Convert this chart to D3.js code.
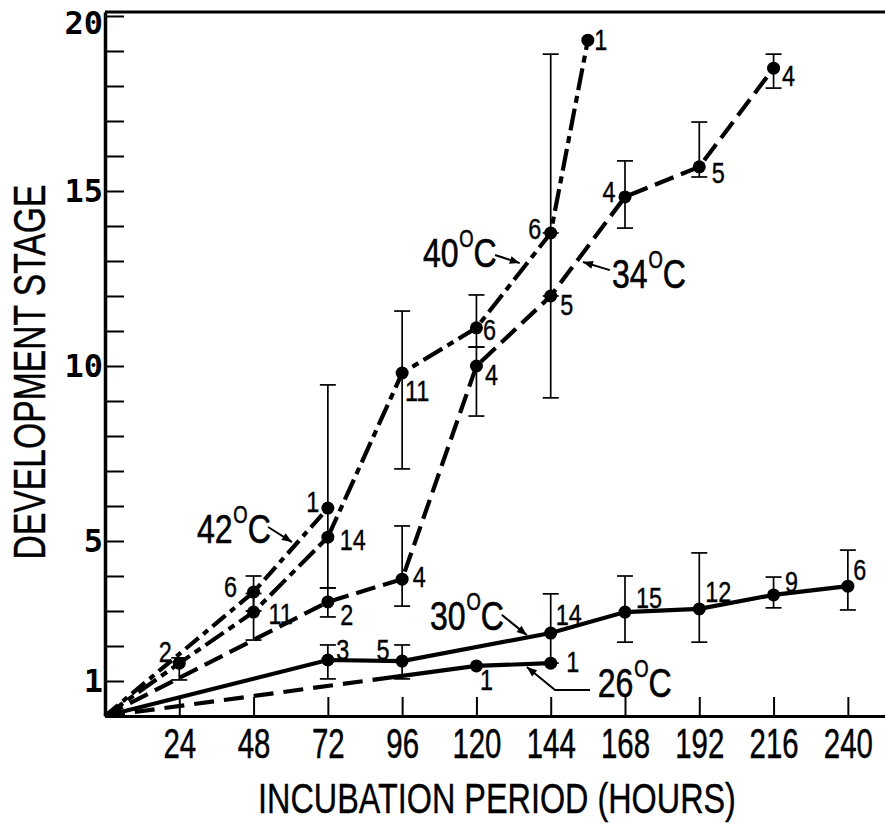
<!DOCTYPE html>
<html><head><meta charset="utf-8">
<script src="https://cdn.jsdelivr.net/npm/d3@7"></script>
<style>body{margin:0;background:#fff}</style>
</head><body>
<svg id="c" width="885" height="824"></svg>
<script>
// ---------- DATA ----------
const xTickValues = [24,48,72,96,120,144,168,192,216,240];
const yTickValues = d3.range(1,21);
const yTickLabels = [1,5,10,15,20];

const hours42 = [0,48,72];
const stage42 = [0,3.54,5.94];
const n42     = [null,6,1];
const lo42    = [null,3.0,null];
const hi42    = [null,4.0,null];

const hours40 = [0,24,48,72,96,120,144,156];
const stage40 = [0,1.51,2.97,5.11,9.8,11.09,13.8,19.31];
const n40     = [null,2,11,14,11,6,6,1];
const lo40    = [null,1.03,2.17,3.66,7.06,10.54,12.0,null];
const hi40    = [null,1.66,3.5,9.46,11.57,12.03,18.91,null];

const hours34 = [0,72,96,120,144,168,192,216];
const stage34 = [0,3.26,3.91,10.0,12.0,14.83,15.69,18.51];
const n34     = [null,2,4,4,5,4,5,4];
const lo34    = [null,2.83,3.14,8.57,9.09,13.94,15.4,17.94];
const hi34    = [null,3.66,5.43,10.54,13.8,15.86,16.97,18.91];

const hours30 = [0,72,96,144,168,192,216,240];
const stage30 = [0,1.6,1.57,2.37,2.97,3.06,3.46,3.71];
const n30     = [null,3,5,14,15,12,9,6];
const lo30    = [null,1.06,1.06,1.51,2.11,2.11,3.09,3.03];
const hi30    = [null,2.03,2.03,3.49,4.0,4.66,3.97,4.74];

const hours26 = [0,120,144];
const stage26 = [0,1.43,1.51];
const n26     = [null,1,1];

const tempNames = ["42","40","34","30","26"];
const xTitle = "INCUBATION PERIOD (HOURS)";
const yTitle = "DEVELOPMENT STAGE";

// ---------- STYLE / LAYOUT ----------
const series = [
  {name:"42", h:hours42, v:stage42, n:n42, lo:lo42, hi:hi42, dash:"17,6,6,6",
   off:[null,[-23,-5],[-15,-6]]},
  {name:"40", h:hours40, v:stage40, n:n40, lo:lo40, hi:hi40, dash:"22,6,7,6",
   off:[null,[-14,-11],[27,2],[25,3],[15,18],[13,2],[-16,-4],[13,0]]},
  {name:"34", h:hours34, v:stage34, n:n34, lo:lo34, hi:hi34, dash:"20,8",
   off:[null,[19,13],[17,-2],[15,9],[16,9],[-16,-5],[19,6],[15,8]]},
  {name:"30", h:hours30, v:stage30, n:n30, lo:lo30, hi:hi30, dash:null,
   off:[null,[15,-10],[-19,-11],[18,-18],[24,-14],[19,-17],[18,-13],[12,-16]]},
  {name:"26", h:hours26, v:stage26, n:n26, lo:[], hi:[], dash:"20,10", dashUntil:96,
   off:[null,[10,14],[22,-1]]}
];
// annotation anchors in data units (hours, stage)
const notes = [
  {name:tempNames[0], t:[29.7,4.94], arrow:[[52.7,5.4],[60.4,4.97]]},
  {name:tempNames[1], t:[102.7,12.83], arrow:[[126,13.17],[134,12.94]]},
  {name:tempNames[2], t:[163.8,12.23], arrow:[[163.1,12.74],[154.4,12.97]]},
  {name:tempNames[3], t:[105,2.46], arrow:[[128.2,2.89],[136.3,2.31]]},
  {name:tempNames[4], t:[159.2,0.54], arrow:[[156.7,0.74],[145.4,0.74],[136.3,1.4]]}
];

const SANS = "'Liberation Sans', Arial, sans-serif";
const MONO = "'DejaVu Sans Mono', monospace";

const svg = d3.select("#c");
const x = d3.scaleLinear().domain([0,252]).range([105,885]);
const y = d3.scaleLinear().domain([0,20.114]).range([716,12]);

// horizontally condense a text around its own anchor point
function condense(sel,k){
  sel.each(function(){
    const t=d3.select(this);
    const ax=+(t.attr("x")||0), ay=+(t.attr("y")||0);
    const prev=t.attr("transform")||"";
    t.attr("transform",`${prev} translate(${ax},${ay}) scale(${k},1) translate(${-ax},${-ay})`);
  });
}
function fitWidth(sel,w){
  sel.each(function(){
    const n=this.getComputedTextLength();
    d3.select(this).call(condense,w/n);
  });
}

svg.append("defs").append("marker")
  .attr("id","ah").attr("viewBox","0 0 10 10").attr("refX",10).attr("refY",5)
  .attr("markerWidth",12).attr("markerHeight",10).attr("markerUnits","userSpaceOnUse")
  .attr("orient","auto")
  .append("path").attr("d","M0,1 L10,5 L0,9 Z").attr("fill","#000");

// ---------- AXES ----------
const gx = svg.append("g").attr("transform",`translate(0,${y(0)})`)
  .call(d3.axisBottom(x).tickValues(xTickValues).tickSize(-19).tickSizeOuter(0).tickPadding(12));
gx.select(".domain").attr("stroke-width",3);
gx.selectAll(".tick line").attr("stroke-width",2);
gx.selectAll(".tick text").attr("font-family",SANS).attr("font-size",42).attr("fill","#000")
  .attr("stroke","#000").attr("stroke-width",0.5).call(condense,0.7);

const gy = svg.append("g").attr("transform",`translate(${x(0)},0)`)
  .call(d3.axisLeft(y).tickValues(yTickValues).tickSize(-19).tickSizeOuter(0).tickPadding(2)
    .tickFormat(d=>yTickLabels.includes(d)?d:""));
gy.select(".domain").attr("stroke-width",3.5);
gy.selectAll(".tick line").attr("stroke-width",2);
gy.selectAll(".tick text").attr("font-family",MONO).attr("font-weight","bold")
  .attr("font-size",32).attr("fill","#000")
  .filter(d=>d===20).attr("dy","0.55em");

// top frame
svg.append("line").attr("x1",x(0)).attr("x2",x(252)).attr("y1",y(20.114)).attr("y2",y(20.114))
  .attr("stroke","#000").attr("stroke-width",3);

// titles
svg.append("text").attr("x",497).attr("y",813).attr("text-anchor","middle")
  .attr("font-family",SANS).attr("font-size",43).attr("stroke","#000").attr("stroke-width",0.4)
  .text(xTitle).call(fitWidth,478);
svg.append("g").attr("transform","translate(45,372) rotate(-90)")
  .append("text").attr("text-anchor","middle")
  .attr("font-family",SANS).attr("font-size",44).attr("stroke","#000").attr("stroke-width",0.4)
  .text(yTitle).call(fitWidth,375);

// ---------- SERIES ----------
const line = d3.line().x(d=>x(d[0])).y(d=>y(d[1]));
series.forEach(s=>{
  const pts = s.h.map((h,i)=>[h,s.v[i]]);
  const p = svg.append("path").attr("d",line(pts)).attr("fill","none")
    .attr("stroke","#000").attr("stroke-width",4.2);
  if (s.dash && s.dashUntil!=null){
    // dashed up to dashUntil hours, then solid
    const seg0 = Math.hypot(x(pts[1][0])-x(pts[0][0]), y(pts[1][1])-y(pts[0][1]));
    const L = seg0*(s.dashUntil-pts[0][0])/(pts[1][0]-pts[0][0]);
    const [a,b] = s.dash.split(",").map(Number);
    const arr=[]; let acc=0;
    while(acc+a+b<L){arr.push(a,b);acc+=a+b;}
    arr.push(p.node().getTotalLength()+10, 0);
    p.attr("stroke-dasharray",arr.join(","));
  } else if (s.dash){
    p.attr("stroke-dasharray",s.dash);
  }
});
// error bars
series.forEach(s=>{
  s.h.forEach((h,i)=>{
    const lo=s.lo[i], hi=s.hi[i];
    if(lo==null||hi==null) return;
    const g=svg.append("g").attr("stroke","#000").attr("stroke-width",1.7);
    g.append("line").attr("x1",x(h)).attr("x2",x(h)).attr("y1",y(lo)).attr("y2",y(hi));
    [lo,hi].forEach(v=>g.append("line").attr("x1",x(h)-8).attr("x2",x(h)+8).attr("y1",y(v)).attr("y2",y(v)));
  });
});
// points + n labels
series.forEach(s=>{
  s.h.forEach((h,i)=>{
    if(s.n[i]==null) return;
    svg.append("circle").attr("cx",x(h)).attr("cy",y(s.v[i])).attr("r",6.5).attr("fill","#000");
    const o=s.off[i];
    svg.append("text").attr("x",x(h)+o[0]).attr("y",y(s.v[i])+o[1])
      .attr("text-anchor","middle").attr("dominant-baseline","central")
      .attr("font-family",SANS).attr("font-size",30).attr("stroke","#000").attr("stroke-width",0.4)
      .text(s.n[i]).call(condense,0.78);
  });
});
// annotations
notes.forEach(nt=>{
  const g=svg.append("g").attr("transform",`translate(${x(nt.t[0])},${y(nt.t[1])}) scale(0.8,1)`);
  const t=g.append("text").attr("font-family",SANS).attr("font-size",40)
    .attr("stroke","#000").attr("stroke-width",0.6);
  t.append("tspan").text(nt.name);
  t.append("tspan").attr("font-size",23).attr("dy",-20).attr("dx",1).text("O");
  t.append("tspan").attr("dy",20).text("C");
  svg.append("path").attr("d",d3.line()(nt.arrow.map(a=>[x(a[0]),y(a[1])])))
    .attr("fill","none").attr("stroke","#000").attr("stroke-width",2).attr("marker-end","url(#ah)");
});
</script>
</body></html>
